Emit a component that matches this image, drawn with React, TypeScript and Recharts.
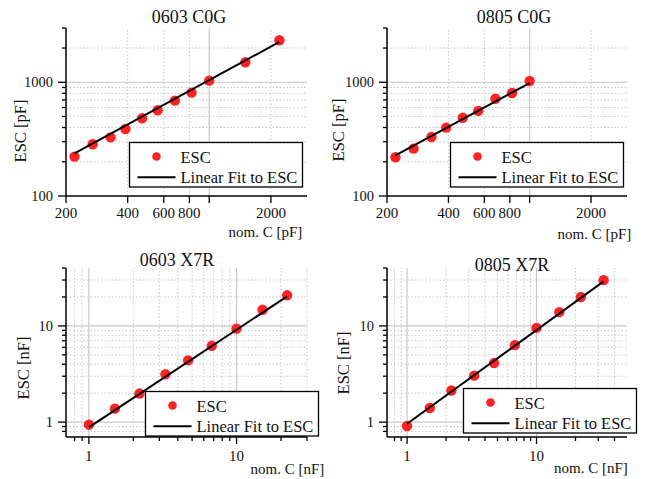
import { ComposedChart, ReferenceLine, Scatter, XAxis, YAxis } from "recharts";

const FONT = '"Liberation Serif", "Times New Roman", serif';
const RED = "#fe2222";
const GRID = "#c8c8c8";

// 0603 C0G (pF)
const c0603Nom = [220, 270, 330, 390, 470, 560, 680, 820, 1000, 1500, 2200];
const c0603Esc = [222, 285, 328, 388, 482, 567, 689, 810, 1033, 1500, 2340];
const c0603FitNom = [220, 2200];
const c0603FitEsc = [237, 2260];

// 0805 C0G (pF)
const c0805Nom = [220, 270, 330, 390, 470, 560, 680, 820, 1000];
const c0805Esc = [219, 261, 330, 399, 488, 560, 717, 805, 1027];
const c0805FitNom = [220, 1000];
const c0805FitEsc = [228, 985];

// 0603 X7R (nF)
const x0603Nom = [1, 1.5, 2.2, 3.3, 4.7, 6.8, 10, 15, 22];
const x0603Esc = [0.94, 1.38, 1.98, 3.14, 4.38, 6.21, 9.38, 14.7, 20.8];
const x0603FitNom = [1, 22];
const x0603FitEsc = [0.88, 20.3];

// 0805 X7R (nF)
const x0805Nom = [1, 1.5, 2.2, 3.3, 4.7, 6.8, 10, 15, 22, 33];
const x0805Esc = [0.91, 1.4, 2.13, 3.04, 4.11, 6.31, 9.53, 13.9, 19.95, 29.9];
const x0805FitNom = [1, 33];
const x0805FitEsc = [0.96, 29];

// pF axes
const pfXDomain = [200, 3000];
const pfXTicks = [200, 400, 600, 800, 1000, 2000];
const pfXLabels = [200, 400, 600, 800, 2000];
const pfXGridMajor = [1000];
const pfXGridMinor = [400, 600, 800, 2000];
const pfYDomain = [100, 3000];
const pfYTicks = [100, 200, 300, 400, 500, 600, 700, 800, 900, 1000, 2000, 3000];
const pfYMajor = [100, 1000];
const pfYGridMajor = [1000];
const pfYGridMinor = [200, 300, 400, 500, 600, 700, 800, 900, 2000];

// nF axes
const nfYDomain = [0.7, 40];
const nfTicks = [0.8, 0.9, 1, 2, 3, 4, 5, 6, 7, 8, 9, 10, 20, 30, 40];
const nfMajor = [1, 10];
const nfGridMajor = [1, 10];
const nfGridMinor = [0.8, 0.9, 2, 3, 4, 5, 6, 7, 8, 9, 20, 30];
const nfGridMinorWide = [0.8, 0.9, 2, 3, 4, 5, 6, 7, 8, 9, 20, 30, 40];

const toPts = (xs: number[], ys: number[]) => xs.map((x, i) => ({ x, y: ys[i] }));

type Rect = { l: number; t: number; r: number; b: number };

function XTick(props: any) {
  const { x, y, payload, labels, majors, dy } = props;
  const v = payload.value;
  const major = majors.includes(v);
  return (
    <g>
      <line x1={x} x2={x} y1={y} y2={y + (major ? 7 : 4)} stroke="#000" strokeWidth={1.3} />
      {labels.includes(v) && (
        <text x={x} y={y + dy} textAnchor="middle" dominantBaseline="central" fontFamily={FONT} fontSize={15} fill="#111">
          {v}
        </text>
      )}
    </g>
  );
}

function YTick(props: any) {
  const { x, y, payload, majors } = props;
  const v = payload.value;
  const major = majors.includes(v);
  return (
    <g>
      <line x1={x - (major ? 8 : 4)} x2={x} y1={y} y2={y} stroke="#000" strokeWidth={1.3} />
      {major && (
        <text x={x - 13} y={y} textAnchor="end" dominantBaseline="central" fontFamily={FONT} fontSize={14.5} fill="#111">
          {v}
        </text>
      )}
    </g>
  );
}

const dot = (p: any) => <circle cx={p.cx} cy={p.cy} r={5.2} fill={RED} />;
const noDot = () => <g />;

function Panel(props: {
  box: Rect;
  plot: Rect;
  points: { x: number; y: number }[];
  fit: { x: number; y: number }[];
  xDomain: number[];
  yDomain: number[];
  xTicks: number[];
  xLabels: number[];
  xMajors: number[];
  xGridMajor: number[];
  xGridMinor: number[];
  yTicks: number[];
  yMajors: number[];
  yGridMajor: number[];
  yGridMinor: number[];
  xLabelDy: number;
}) {
  const { box, plot } = props;
  const W = box.r - box.l;
  const H = box.b - box.t;
  const margin = {
    left: plot.l - box.l - 50,
    top: plot.t - box.t,
    right: box.r - plot.r,
    bottom: box.b - plot.b - 30,
  };
  return (
    <div style={{ position: "absolute", left: box.l, top: box.t, width: W, height: H }}>
      <ComposedChart width={W} height={H} margin={margin}>
        <XAxis
          type="number"
          dataKey="x"
          scale="log"
          domain={props.xDomain}
          allowDataOverflow
          ticks={props.xTicks}
          interval={0}
          height={30}
          tickSize={0}
          tickMargin={0}
          tickLine={false}
          axisLine={{ stroke: "#000", strokeWidth: 1.5 }}
          tick={<XTick labels={props.xLabels} majors={props.xMajors} dy={props.xLabelDy} />}
        />
        <YAxis
          type="number"
          dataKey="y"
          scale="log"
          domain={props.yDomain}
          allowDataOverflow
          ticks={props.yTicks}
          interval={0}
          width={50}
          tickSize={0}
          tickMargin={0}
          tickLine={false}
          axisLine={{ stroke: "#000", strokeWidth: 1.5 }}
          tick={<YTick majors={props.yMajors} />}
        />
        {props.xGridMinor.map((v) => (
          <ReferenceLine key={"xm" + v} x={v} stroke={GRID} strokeWidth={1} strokeDasharray="1.5 2" />
        ))}
        {props.yGridMinor.map((v) => (
          <ReferenceLine key={"ym" + v} y={v} stroke={GRID} strokeWidth={1} strokeDasharray="1.5 2" />
        ))}
        {props.xGridMajor.map((v) => (
          <ReferenceLine key={"xM" + v} x={v} stroke={GRID} strokeWidth={1.2} />
        ))}
        {props.yGridMajor.map((v) => (
          <ReferenceLine key={"yM" + v} y={v} stroke={GRID} strokeWidth={1.2} />
        ))}
        <Scatter data={props.points} shape={dot} isAnimationActive={false} />
        <Scatter data={props.fit} shape={noDot} line={{ stroke: "#000", strokeWidth: 2 }} isAnimationActive={false} />
      </ComposedChart>
    </div>
  );
}

function LegendBox({ x, y }: { x: number; y: number }) {
  return (
    <g transform={`translate(${x},${y})`}>
      <rect x={0} y={0} width={173} height={44.5} fill="#fff" stroke="#000" strokeWidth={1.3} />
      <circle cx={27} cy={14} r={4.3} fill={RED} />
      <text x={51} y={14.5} dominantBaseline="central" fontFamily={FONT} fontSize={16.5} fill="#111">ESC</text>
      <line x1={8} x2={46} y1={34.8} y2={34.8} stroke="#000" strokeWidth={2} />
      <text x={51} y={34.8} dominantBaseline="central" fontFamily={FONT} fontSize={16.5} fill="#111">Linear Fit to ESC</text>
    </g>
  );
}

function Txt({ x, y, size, children, rotate }: { x: number; y: number; size: number; children: string; rotate?: boolean }) {
  return (
    <text
      x={x}
      y={y}
      textAnchor="middle"
      dominantBaseline="central"
      fontFamily={FONT}
      fontSize={size}
      fill="#111"
      transform={rotate ? `rotate(-90 ${x} ${y})` : undefined}
    >
      {children}
    </text>
  );
}

export default function App() {
  const pf = {
    xDomain: pfXDomain,
    yDomain: pfYDomain,
    xTicks: pfXTicks,
    xLabels: pfXLabels,
    xMajors: pfXTicks,
    xGridMajor: pfXGridMajor,
    xGridMinor: pfXGridMinor,
    yTicks: pfYTicks,
    yMajors: pfYMajor,
    yGridMajor: pfYGridMajor,
    yGridMinor: pfYGridMinor,
    xLabelDy: 17,
  };
  const nf = {
    yDomain: nfYDomain,
    xTicks: nfTicks,
    xLabels: nfMajor,
    xMajors: nfMajor,
    xGridMajor: nfGridMajor,
    yTicks: nfTicks,
    yMajors: nfMajor,
    yGridMajor: nfGridMajor,
    yGridMinor: nfGridMinor,
    xLabelDy: 19,
  };
  return (
    <div style={{ position: "absolute", left: 0, top: 0, width: 645, height: 479, background: "#fff", overflow: "hidden" }}>
      <Panel
        {...pf}
        box={{ l: 0, t: 0, r: 320, b: 240 }}
        plot={{ l: 66, t: 28, r: 307, b: 196 }}
        points={toPts(c0603Nom, c0603Esc)}
        fit={toPts(c0603FitNom, c0603FitEsc)}
      />
      <Panel
        {...pf}
        box={{ l: 320, t: 0, r: 645, b: 240 }}
        plot={{ l: 387, t: 28, r: 627, b: 196 }}
        points={toPts(c0805Nom, c0805Esc)}
        fit={toPts(c0805FitNom, c0805FitEsc)}
      />
      <Panel
        {...nf}
        xDomain={[0.7, 30]}
        xGridMinor={nfGridMinor}
        box={{ l: 0, t: 240, r: 320, b: 479 }}
        plot={{ l: 66, t: 268, r: 307, b: 437 }}
        points={toPts(x0603Nom, x0603Esc)}
        fit={toPts(x0603FitNom, x0603FitEsc)}
      />
      <Panel
        {...nf}
        xDomain={[0.7, 50]}
        xGridMinor={nfGridMinorWide}
        box={{ l: 320, t: 240, r: 645, b: 479 }}
        plot={{ l: 387, t: 268, r: 627, b: 437 }}
        points={toPts(x0805Nom, x0805Esc)}
        fit={toPts(x0805FitNom, x0805FitEsc)}
      />
      <svg width={645} height={479} style={{ position: "absolute", left: 0, top: 0, pointerEvents: "none" }}>
        <Txt x={189} y={17} size={18}>0603 C0G</Txt>
        <Txt x={514} y={17} size={18}>0805 C0G</Txt>
        <Txt x={177} y={260} size={18}>0603 X7R</Txt>
        <Txt x={512} y={265} size={18}>0805 X7R</Txt>
        <Txt x={20} y={131} size={16.5} rotate>ESC [pF]</Txt>
        <Txt x={338} y={130} size={16.5} rotate>ESC [pF]</Txt>
        <Txt x={23} y={368} size={16.5} rotate>ESC [nF]</Txt>
        <Txt x={343} y={363} size={16.5} rotate>ESC [nF]</Txt>
        <Txt x={265.5} y={232} size={15}>nom. C [pF]</Txt>
        <Txt x={594.5} y={234} size={15}>nom. C [pF]</Txt>
        <Txt x={287.5} y={469} size={15}>nom. C [nF]</Txt>
        <Txt x={591} y={468} size={15}>nom. C [nF]</Txt>
        <LegendBox x={129.5} y={142.5} />
        <LegendBox x={450.5} y={142.5} />
        <LegendBox x={145.5} y={391.5} />
        <LegendBox x={463.5} y={388.5} />
      </svg>
    </div>
  );
}
